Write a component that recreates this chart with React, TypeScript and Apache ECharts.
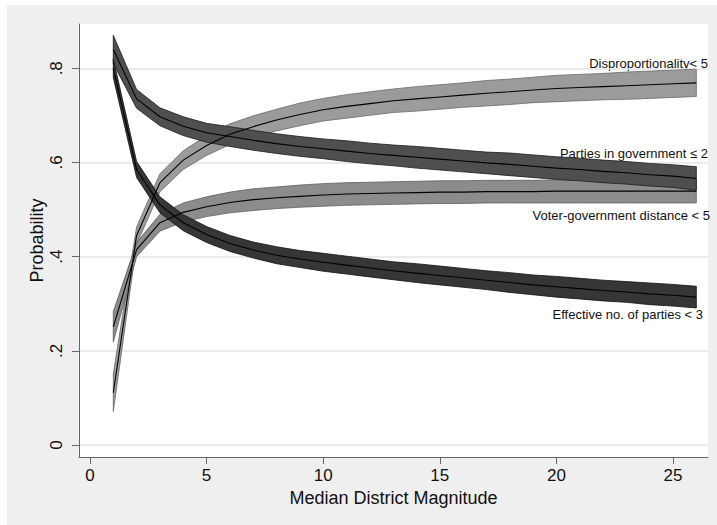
import React, { useEffect, useRef } from "react";
import * as echarts from "echarts";

const X = [1, 2, 3, 4, 5, 6, 7, 8, 9, 10, 11, 12, 13, 14, 15, 16, 17, 18, 19, 20, 21, 22, 23, 24, 25, 26];

const X_TICKS = [0, 5, 10, 15, 20, 25];
const Y_TICKS = [0, 0.2, 0.4, 0.6, 0.8];

// Disproportionality < 5
const dispMid = [0.111, 0.445, 0.557, 0.605, 0.636, 0.660, 0.676, 0.690, 0.702, 0.712, 0.719, 0.725, 0.731, 0.735, 0.739, 0.743, 0.747, 0.750, 0.754, 0.757, 0.759, 0.761, 0.763, 0.765, 0.767, 0.769];
const dispLo = [0.071, 0.427, 0.538, 0.585, 0.615, 0.638, 0.653, 0.667, 0.678, 0.688, 0.694, 0.700, 0.706, 0.709, 0.713, 0.717, 0.720, 0.723, 0.727, 0.729, 0.731, 0.733, 0.734, 0.736, 0.738, 0.740];
const dispHi = [0.151, 0.463, 0.576, 0.625, 0.657, 0.682, 0.699, 0.713, 0.726, 0.736, 0.744, 0.750, 0.756, 0.761, 0.765, 0.769, 0.774, 0.777, 0.781, 0.785, 0.787, 0.789, 0.792, 0.794, 0.796, 0.798];

// Voter-government distance < 5
const voterMid = [0.251, 0.415, 0.472, 0.494, 0.506, 0.515, 0.521, 0.525, 0.528, 0.531, 0.533, 0.534, 0.535, 0.536, 0.537, 0.537, 0.538, 0.538, 0.538, 0.539, 0.539, 0.539, 0.539, 0.539, 0.539, 0.539];
const voterLo = [0.219, 0.400, 0.454, 0.474, 0.485, 0.493, 0.498, 0.502, 0.505, 0.507, 0.509, 0.510, 0.511, 0.512, 0.513, 0.513, 0.514, 0.514, 0.514, 0.514, 0.514, 0.514, 0.514, 0.514, 0.514, 0.514];
const voterHi = [0.283, 0.430, 0.490, 0.514, 0.527, 0.537, 0.544, 0.548, 0.552, 0.555, 0.557, 0.558, 0.559, 0.560, 0.561, 0.561, 0.562, 0.562, 0.562, 0.563, 0.563, 0.563, 0.563, 0.564, 0.564, 0.564];

// Parties in government <= 2
const govMid = [0.840, 0.735, 0.697, 0.677, 0.663, 0.655, 0.647, 0.640, 0.634, 0.629, 0.624, 0.619, 0.615, 0.611, 0.607, 0.603, 0.599, 0.596, 0.592, 0.588, 0.585, 0.581, 0.578, 0.574, 0.571, 0.566];
const govLo = [0.810, 0.715, 0.678, 0.657, 0.643, 0.634, 0.626, 0.619, 0.613, 0.608, 0.602, 0.597, 0.593, 0.588, 0.584, 0.580, 0.576, 0.572, 0.568, 0.564, 0.561, 0.557, 0.554, 0.550, 0.547, 0.541];
const govHi = [0.870, 0.755, 0.716, 0.697, 0.683, 0.676, 0.668, 0.661, 0.655, 0.650, 0.646, 0.641, 0.637, 0.634, 0.630, 0.626, 0.622, 0.620, 0.616, 0.612, 0.609, 0.605, 0.602, 0.598, 0.595, 0.591];

// Effective no. of parties < 3
const effMid = [0.800, 0.585, 0.510, 0.472, 0.447, 0.428, 0.414, 0.403, 0.395, 0.388, 0.382, 0.376, 0.370, 0.365, 0.360, 0.355, 0.350, 0.345, 0.340, 0.336, 0.332, 0.328, 0.325, 0.321, 0.318, 0.314];
const effLo = [0.780, 0.568, 0.493, 0.455, 0.430, 0.411, 0.397, 0.385, 0.377, 0.369, 0.363, 0.357, 0.351, 0.345, 0.340, 0.335, 0.330, 0.324, 0.319, 0.314, 0.310, 0.306, 0.303, 0.298, 0.295, 0.291];
const effHi = [0.820, 0.602, 0.527, 0.489, 0.464, 0.445, 0.431, 0.421, 0.413, 0.407, 0.401, 0.395, 0.389, 0.385, 0.380, 0.375, 0.370, 0.366, 0.361, 0.358, 0.354, 0.350, 0.347, 0.344, 0.341, 0.337];

const FONT = "'Liberation Sans', Arial, Helvetica, sans-serif";

function band(name: string, lo: number[], hi: number[], fill: string, stroke: string) {
  return {
    type: "custom",
    name,
    coordinateSystem: "cartesian2d",
    silent: true,
    clip: true,
    data: [[X[0], lo[0]]],
    renderItem: (_params: any, api: any) => {
      const pts: number[][] = [];
      for (let i = 0; i < X.length; i++) pts.push(api.coord([X[i], hi[i]]));
      for (let i = X.length - 1; i >= 0; i--) pts.push(api.coord([X[i], lo[i]]));
      return {
        type: "polygon",
        shape: { points: pts },
        style: { fill, stroke, lineWidth: 0.8 },
      };
    },
  };
}

function mid(name: string, vals: number[]) {
  return {
    type: "line",
    name,
    data: X.map((x, i) => [x, vals[i]]),
    showSymbol: false,
    silent: true,
    lineStyle: { color: "#000", width: 1.1 },
  };
}

function label(text: string, right: number, y: number) {
  return {
    type: "text",
    right,
    top: y - 8,
    style: { text, fill: "#111", font: `13px ${FONT}`, textAlign: "right" },
  };
}

export default function App() {
  const ref = useRef<HTMLDivElement>(null);
  useEffect(() => {
    if (!ref.current) return;
    const chart = echarts.init(ref.current, null, { renderer: "svg" });
    chart.setOption({
      animation: false,
      backgroundColor: "#efefef",
      textStyle: { fontFamily: FONT },
      grid: {
        left: 72,
        top: 19,
        right: 9,
        bottom: 68,
        show: true,
        backgroundColor: "#ffffff",
        borderWidth: 0,
      },
      xAxis: {
        type: "value",
        min: -0.47,
        max: 26.5,
        name: "Median District Magnitude",
        nameLocation: "middle",
        nameGap: 29,
        nameTextStyle: { fontSize: 18, color: "#111", fontFamily: FONT },
        axisLine: { onZero: false, lineStyle: { color: "#666", width: 1 } },
        axisTick: { customValues: X_TICKS, length: 7, lineStyle: { color: "#666" } },
        axisLabel: { customValues: X_TICKS, fontSize: 17, color: "#111", margin: 10, fontFamily: FONT },
        splitLine: { show: false },
      },
      yAxis: {
        type: "value",
        min: -0.0255,
        max: 0.894,
        name: "Probability",
        nameLocation: "middle",
        nameGap: 33,
        nameMoveOverlap: false,
        nameTextStyle: { fontSize: 18, color: "#111", fontFamily: FONT },
        axisLine: { show: true, onZero: false, lineStyle: { color: "#666", width: 1 } },
        axisTick: { show: true, customValues: Y_TICKS, length: 7, lineStyle: { color: "#666" } },
        axisLabel: {
          customValues: Y_TICKS,
          rotate: 90,
          fontSize: 17,
          color: "#111",
          margin: 14,
          fontFamily: FONT,
          formatter: (v: number) => (v === 0 ? "0" : String(Math.round(v * 10) / 10).replace(/^0\./, ".")),
        },
        splitLine: { show: true, lineStyle: { color: "#e4e4e4", width: 1.5 } },
      },
      series: [
        band("Disproportionality< 5", dispLo, dispHi, "#9b9b9b", "#6a6a6a"),
        mid("Disproportionality< 5 mid", dispMid),
        band("Voter-government distance < 5", voterLo, voterHi, "#8c8c8c", "#5e5e5e"),
        mid("Voter-government distance < 5 mid", voterMid),
        band("Parties in government ≤ 2", govLo, govHi, "#4f4f4f", "#1a1a1a"),
        mid("Parties in government ≤ 2 mid", govMid),
        band("Effective no. of parties < 3", effLo, effHi, "#363636", "#111111"),
        mid("Effective no. of parties < 3 mid", effMid),
      ],
      graphic: [
        label("Disproportionality< 5", 9, 60),
        label("Parties in government ≤ 2", 9, 150),
        label("Voter-government distance < 5", 7, 212),
        label("Effective no. of parties < 3", 14, 311),
      ],
    });
    return () => chart.dispose();
  }, []);
  return (
    <div
      ref={ref}
      style={{ position: "absolute", left: 7, top: 5, width: 710, height: 520 }}
    />
  );
}
